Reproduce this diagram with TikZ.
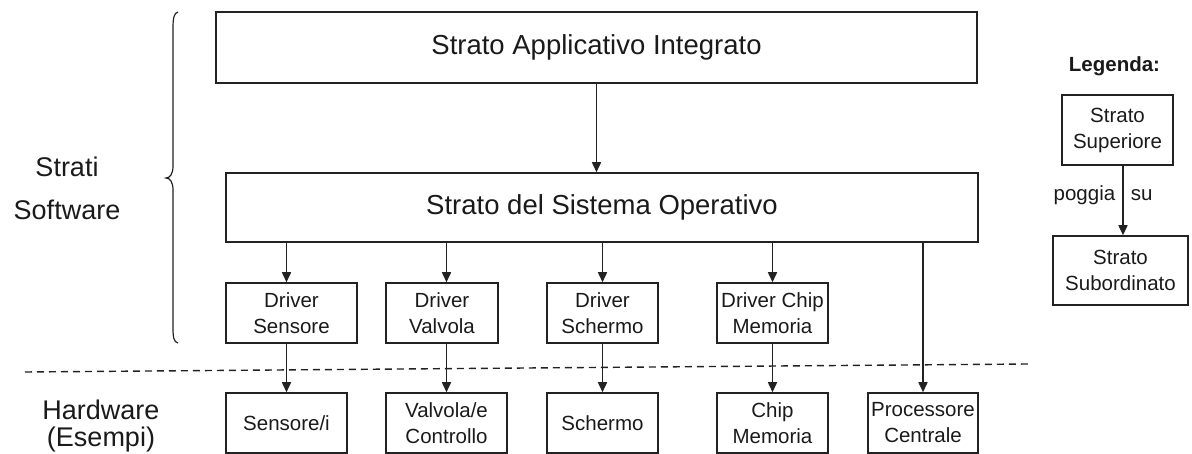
\documentclass[tikz,border=0pt]{standalone}
\usepackage{fontspec}
\setmainfont{Liberation Sans}
\usetikzlibrary{arrows.meta}
\definecolor{linec}{HTML}{222222}
\definecolor{txt}{HTML}{1A1A1A}
\begin{document}
\begin{tikzpicture}[x=1pt,y=-1pt,
  box/.style={draw=linec, line width=1.5pt, inner sep=0pt, align=center, text=txt,
    font=\fontsize{20.5}{26}\selectfont},
  big/.style={box, font=\fontsize{27.5}{32}\selectfont},
  arr/.style={draw=linec, line width=1.5pt, -{Triangle[length=10pt,width=9pt]}},
  lab/.style={text=txt, font=\fontsize{27}{32}\selectfont, anchor=base, inner sep=0pt},
  small/.style={text=txt, font=\fontsize{20.5}{26}\selectfont, inner sep=7pt}]
\useasboundingbox (0,0) rectangle (1192,454);

% big layers
\node[big, minimum width=761pt, minimum height=71pt] (app) at (596.5,47.5) {Strato Applicativo Integrato};
\node[big, minimum width=752pt, minimum height=69pt] (os) at (602,207.5) {Strato del Sistema Operativo};

% drivers
\node[box, minimum width=131pt, minimum height=60pt] (dS) at (291.5,313) {Driver\\Sensore};
\node[box, minimum width=112pt, minimum height=60pt] (dV) at (442,313) {Driver\\Valvola};
\node[box, minimum width=111pt, minimum height=60pt] (dSc) at (602.5,313) {Driver\\Schermo};
\node[box, minimum width=111pt, minimum height=60pt] (dC) at (772.5,313) {Driver Chip\\Memoria};

% hardware
\node[box, minimum width=121pt, minimum height=60pt] (hS) at (286.5,423) {Sensore/i};
\node[box, minimum width=121pt, minimum height=60pt] (hV) at (446.5,423) {Valvola/e\\Controllo};
\node[box, minimum width=111pt, minimum height=60pt] (hSc) at (602.5,423) {Schermo};
\node[box, minimum width=111pt, minimum height=60pt] (hC) at (772.5,423) {Chip\\Memoria};
\node[box, minimum width=110pt, minimum height=60pt] (hP) at (923,423) {Processore\\Centrale};

% arrows
\draw[arr] (app.south) -- (app.south |- os.north);
\draw[arr] (os.south -| hS.north) -- (dS.north -| hS.north);
\draw[arr] (os.south -| hV.north) -- (dV.north -| hV.north);
\draw[arr] (os.south -| hSc.north) -- (dSc.north);
\draw[arr] (os.south -| hC.north) -- (dC.north);
\draw[arr] (dS.south -| hS.north) -- (hS.north);
\draw[arr] (dV.south -| hV.north) -- (hV.north);
\draw[arr] (dSc.south) -- (hSc.north);
\draw[arr] (dC.south) -- (hC.north);
\draw[arr] (os.south -| hP.north) -- (hP.north);

% dashed separator
\coordinate (dl) at (25,372);
\coordinate (dr) at (1028,364);
\draw[linec, line width=1.4pt, dash pattern=on 7pt off 5pt] (dl) -- (dr);

% brace
\draw[linec, line width=1.2pt] (178,12) .. controls (174,13) and (173,18) .. (173,28)
  -- (173,166) .. controls (173,174) and (170,178) .. (166,178)
  .. controls (170,178) and (173,182) .. (173,190)
  -- (173,328) .. controls (173,338) and (174,342) .. (178,343);

% side labels
\node[lab] (t1) at (67,177) {Strati};
\node[lab] (t2) at (67,220) {Software};
\node[lab] (t3) at (101,419) {Hardware};
\node[lab] (t4) at (101,446) {(Esempi)};

% legend
\node[text=txt, font=\bfseries\fontsize{20.5}{26}\selectfont, anchor=base, inner sep=0pt] (leg) at (1114.5,72) {Legenda:};
\node[box, minimum width=111pt, minimum height=70pt] (ls) at (1117.5,130) {Strato\\Superiore};
\node[box, minimum width=135pt, minimum height=69pt] (lsub) at (1120.5,270.5) {Strato\\Subordinato};
\draw[arr] ([xshift=5.5pt]ls.south) -- ([xshift=5.5pt]ls.south |- lsub.north)
  node[small, pos=0.42, left] (pg) {poggia}
  node[small, pos=0.42, right] (su) {su};
\end{tikzpicture}
\end{document}
